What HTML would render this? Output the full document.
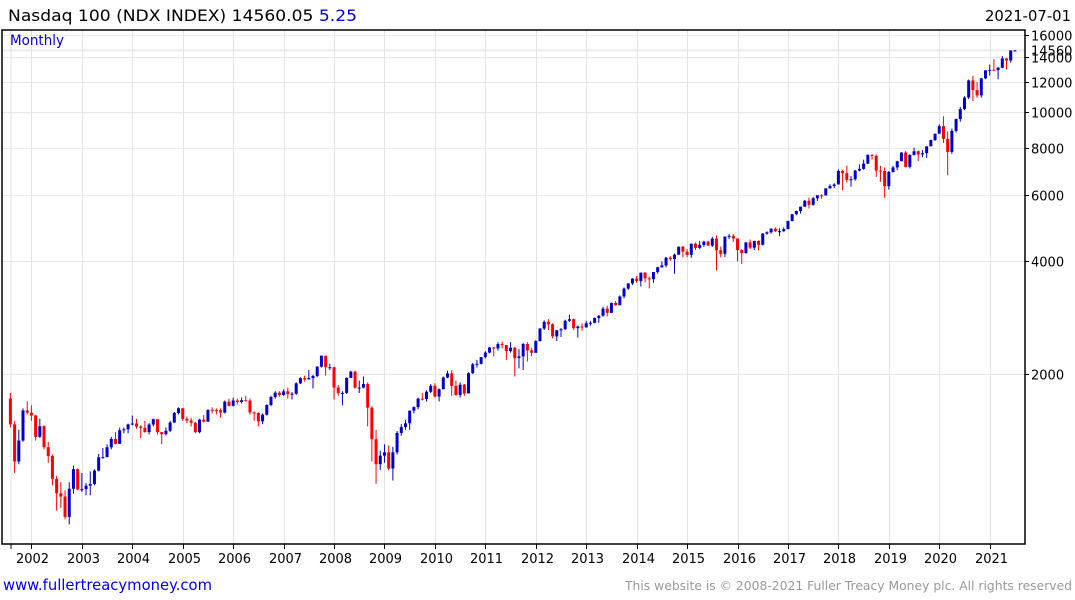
<!DOCTYPE html>
<html><head><meta charset="utf-8"><style>
html,body{margin:0;padding:0;background:#fff;}
svg{display:block;font-family:"DejaVu Sans","Liberation Sans",sans-serif;}
</style></head><body>
<svg id="chart" width="1075" height="600">
<text x="8" y="21" font-size="16" fill="#000" textLength="349" lengthAdjust="spacingAndGlyphs">Nasdaq 100 (NDX INDEX) 14560.05 <tspan fill="#0000dd">5.25</tspan></text>
<text x="985" y="21" font-size="15" fill="#000" textLength="86" lengthAdjust="spacingAndGlyphs">2021-07-01</text>
<g id="grid"></g>
<g id="candles"></g>
<g id="axes"></g>
<text x="10" y="45" font-size="14" fill="#0000dd" textLength="54" lengthAdjust="spacingAndGlyphs">Monthly</text>
<text x="3" y="590" font-size="15" fill="#0000ee" textLength="209" lengthAdjust="spacingAndGlyphs">www.fullertreacymoney.com</text>
<text x="625" y="590" font-size="12" fill="#999" textLength="447" lengthAdjust="spacingAndGlyphs">This website is © 2008-2021 Fuller Treacy Money plc. All rights reserved</text>
</svg>
<script>
const firstOpen = 1720;
const closes = [1469,1169,1330,1599,1577,
1550,1360,1452,1277,1209,1051,962,943,832,989,1116,984,
987,1008,1018,1106,1200,1201,1276,1343,1303,1416,1424,1468,
1476,1449,1438,1401,1467,1516,1400,1383,1412,1485,1575,1621,
1519,1503,1483,1400,1512,1493,1605,1603,1601,1579,1688,1645,
1700,1685,1703,1700,1580,1575,1496,1558,1654,1737,1784,1757,
1798,1768,1772,1889,1950,1934,1951,1976,2092,2238,2085,2085,
1841,1780,1781,1953,2030,1838,1840,1880,1627,1340,1150,1212,
1237,1120,1237,1393,1444,1478,1597,1632,1719,1716,1793,1860,
1742,1822,1957,2007,1860,1758,1873,1775,2010,2122,2129,2218,
2281,2353,2340,2403,2389,2301,2350,2205,2228,2404,2312,2278,
2448,2644,2755,2714,2520,2615,2632,2772,2799,2650,2677,2661,
2731,2738,2819,2860,2987,2910,3093,3049,3219,3378,3487,3592,
3537,3724,3596,3580,3737,3850,3893,4083,4050,4158,4366,4236,
4152,4448,4334,4415,4508,4397,4589,4274,4181,4648,4665,4594,
4280,4201,4484,4341,4524,4418,4730,4772,4875,4801,4804,4864,
5114,5330,5436,5584,5788,5647,5880,5988,5980,6248,6337,6397,
6950,6854,6581,6606,6967,7040,7272,7674,7627,6967,6949,6330,
6907,7102,7378,7781,7127,7671,7842,7692,7750,8084,8404,8733,
9151,8462,7813,8890,9555,10156,10905,12110,11418,11052,12268,12888,
12925,12909,13091,13860,13687,14554,14560];
const highs = [1780,1500,1420,1620,1690,
1650,1560,1520,1460,1320,1220,1070,1030,980,1030,1140,1120,
1090,1025,1100,1115,1225,1270,1300,1360,1400,1440,1440,1475,
1550,1520,1460,1500,1480,1520,1510,1400,1440,1500,1585,1630,
1625,1540,1530,1490,1520,1555,1610,1630,1620,1620,1700,1720,
1730,1720,1730,1750,1720,1590,1580,1570,1660,1750,1800,1800,
1820,1840,1790,1900,1960,1980,2050,1990,2100,2240,2230,2130,
2090,1870,1800,1960,2040,2040,1920,1970,1900,1640,1420,1250,
1300,1290,1280,1410,1470,1510,1600,1640,1730,1780,1810,1880,
1890,1830,1970,2040,2050,1920,1900,1880,2020,2140,2180,2220,
2300,2360,2360,2430,2440,2390,2430,2360,2330,2420,2430,2350,
2460,2650,2780,2800,2730,2620,2650,2790,2880,2810,2690,2730,
2770,2770,2830,2870,3020,3040,3100,3130,3240,3400,3490,3600,
3650,3730,3740,3640,3740,3860,3990,4100,4120,4190,4370,4390,
4300,4450,4480,4520,4530,4530,4640,4680,4370,4650,4720,4720,
4560,4300,4490,4560,4530,4540,4750,4800,4900,4920,4890,4920,
5120,5340,5450,5590,5820,5900,5930,5990,6020,6250,6410,6450,
7020,7000,7180,6740,7000,7240,7450,7680,7700,7690,7170,7100,
6950,7180,7400,7800,7850,7700,8020,7880,7900,8090,8420,8740,
9250,9720,8850,9020,9580,10300,10990,12180,12460,12000,12300,12890,
13350,13800,13160,14060,13900,14580,14590];
const lows = [1440,1090,1150,1320,1560,
1500,1330,1350,1260,1160,1010,865,880,820,795,960,980,
970,950,950,1010,1100,1190,1200,1260,1300,1310,1390,1390,
1460,1430,1350,1395,1380,1450,1380,1300,1370,1400,1480,1560,
1500,1480,1450,1390,1390,1485,1490,1570,1560,1530,1570,1640,
1640,1660,1670,1690,1560,1500,1450,1470,1550,1640,1720,1740,
1750,1720,1710,1760,1880,1910,1940,1830,1960,2080,1980,2050,
1710,1750,1650,1770,1950,1830,1780,1830,1450,1170,1020,1110,
1160,1110,1040,1220,1370,1420,1420,1570,1610,1700,1690,1780,
1730,1690,1820,1950,1750,1750,1730,1750,1780,2000,2080,2120,
2200,2270,2230,2310,2340,2180,2280,1970,2070,2050,2160,2230,
2290,2440,2620,2620,2490,2450,2510,2620,2750,2620,2500,2610,
2660,2690,2730,2740,2840,2850,2910,3040,3070,3180,3350,3450,
3500,3420,3510,3380,3500,3700,3840,3850,4000,3700,4150,4090,
4100,4080,4280,4300,4360,4390,4360,3780,4090,4100,4580,4500,
3990,3930,4180,4300,4280,4270,4400,4700,4730,4780,4660,4780,
4870,5100,5300,5350,5570,5520,5620,5780,5860,5990,6230,6250,
6400,6180,6470,6310,6550,6930,7000,7250,7450,6700,6500,5900,
6200,6880,6980,7380,7100,7060,7640,7380,7560,7530,8090,8350,
8750,8250,6770,7720,8800,9400,10100,10800,10680,10890,10900,12200,
12480,12860,12200,13060,12960,13500,14460];
const yTicks = [2000,4000,6000,8000,10000,12000,14000,16000];
const yearLabels = ["2002","2003","2004","2005","2006","2007","2008","2009","2010","2011","2012","2013","2014","2015","2016","2017","2018","2019","2020","2021"];
const lastValue = 14560;

const NS = "http://www.w3.org/2000/svg";
const X0 = 10.4, DX = 4.203; // month index 0 = Aug 2001
const PL = 2, PR = 1025, PT = 30, PB = 544;
function xScale(i){ return X0 + i*DX; }
function yScale(v){ return 374 - 163.0*Math.log(v/2000); }
function yearX(k){ return xScale(5 + k*12); }
function mk(tag, attrs, parent){
  const e = document.createElementNS(NS, tag);
  for (const k in attrs) e.setAttribute(k, attrs[k]);
  parent.appendChild(e);
  return e;
}
const grid = document.getElementById('grid');
const axes = document.getElementById('axes');
const cg = document.getElementById('candles');

yTicks.forEach(v=>{
  const y = Math.round(yScale(v))+0.5;
  const l = mk('line',{x1:PL,x2:PR,y1:y,y2:y,stroke:'#e8e8e8','stroke-width':1},grid);
  
  
  const t = mk('line',{x1:PR,x2:PR+4,y1:y,y2:y,stroke:'#000','stroke-width':1},axes);
  
  
  const tx = mk('text',{x:PR+6,y:y+5,'font-size':13,fill:'#000'},axes);
  tx.textContent = v;
  
  
});
{
  const y = yScale(lastValue);
  const l = mk('line',{x1:PL,x2:PR,y1:y,y2:y,stroke:'#ececec','stroke-width':2},grid);
  
  
  const tx = mk('text',{x:PR+6,y:y+5,'font-size':13,fill:'#000'},axes);
  tx.textContent = lastValue;
  
  
}
{
  const l = mk('line',{x1:11,x2:11,y1:PT,y2:PB,stroke:'#e2e2e2','stroke-width':1},grid);
  
  
}
yearLabels.forEach((lab,k)=>{
  const x = Math.round(yearX(k))+0.5;
  const l = mk('line',{x1:x,x2:x,y1:PT,y2:PB,stroke:'#e2e2e2','stroke-width':1},grid);
  
  
  const t = mk('line',{x1:x,x2:x,y1:PB,y2:PB+5,stroke:'#000','stroke-width':1},axes);
  
  
  const tx = mk('text',{x:x+1,y:PB+19,'font-size':13,fill:'#000','text-anchor':'middle'},axes);
  tx.textContent = lab;
  
  
});
{
  const t = mk('line',{x1:11,x2:11,y1:PB,y2:PB+5,stroke:'#000','stroke-width':1},axes);
  
  
}
{
  const f = mk('path',{d:`M${PL},${PT} H${PR} V${PB} H${PL} Z`,fill:'none',stroke:'#000','stroke-width':1.5},axes);
  
  
}
closes.forEach((c,i)=>{
  const o = i===0 ? firstOpen : closes[i-1];
  const col = c>=o ? '#0000cc' : '#ff0000';
  const x = xScale(i);
  const w = mk('line',{x1:x,x2:x,y1:yScale(highs[i]),y2:yScale(lows[i]),stroke:col,'stroke-width':1},cg);
  
  
  const yt = yScale(Math.max(o,c)), yb = yScale(Math.min(o,c));
  const b = mk('rect',{x:x-1.5,y:yt,width:3,height:Math.max(1,yb-yt),fill:col},cg);
  
  
});
</script>
</body></html>
